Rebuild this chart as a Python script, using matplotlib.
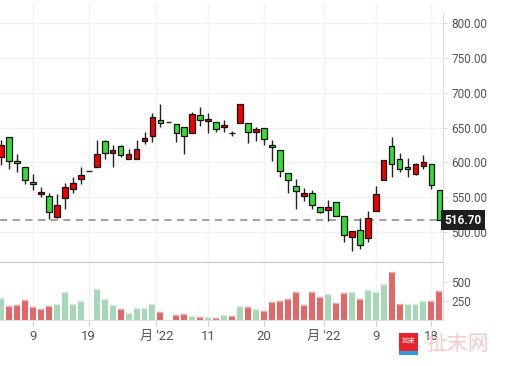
import numpy as np
import matplotlib
matplotlib.use("Agg")
import matplotlib.pyplot as plt
from matplotlib.transforms import blended_transform_factory

plt.rcParams['font.family'] = ['Roboto', 'Noto Sans CJK SC', 'DejaVu Sans']

# daily candles, oldest first
opens = [607.5, 636.3, 601.8, 593.1, 571.5, 554.3, 551.4, 521.2, 548.5, 561.5,
         575.9, 588.1, 593.1, 630.6, 613.3, 623.4, 604.7, 604.7, 630.6, 637.8,
         660.8, 657.9, 655.0, 650.7, 642.1, 668.0, 659.4, 657.9, 650.7, 642.1,
         656.5, 656.5, 643.5, 649.3, 624.8, 617.6, 584.5, 565.8, 551.4, 555.7,
         535.6, 531.2, 542.8, 522.6, 492.4, 502.4, 490.9, 529.8, 574.4, 623.4,
         604.7, 592.5, 583.1, 594.6, 597.5, 560.0]
highs = [632.0, 636.3, 611.8, 593.1, 583.1, 564.3, 555.7, 554.3, 570.1, 578.7,
         593.1, 588.1, 632.0, 632.0, 624.8, 624.8, 619.0, 632.0, 643.5, 670.9,
         683.8, 657.9, 655.0, 650.7, 672.3, 679.5, 670.9, 657.9, 660.8, 645.0,
         683.8, 656.5, 650.7, 649.3, 632.0, 617.6, 584.5, 575.9, 562.9, 560.0,
         535.6, 545.6, 542.8, 522.6, 501.0, 519.7, 529.8, 565.8, 603.2, 636.3,
         613.3, 606.1, 598.9, 610.4, 597.5, 560.0]
lows = [596.0, 590.3, 585.9, 568.7, 560.0, 549.9, 518.3, 519.7, 532.7, 555.7,
        568.7, 588.1, 593.1, 604.7, 593.1, 607.5, 604.7, 604.7, 626.2, 629.1,
        650.7, 657.9, 629.1, 611.8, 642.1, 652.2, 642.1, 643.5, 643.5, 637.8,
        656.5, 627.7, 630.6, 624.8, 601.8, 578.7, 555.7, 532.7, 544.2, 532.7,
        526.9, 515.4, 522.6, 485.2, 472.2, 475.1, 485.2, 529.8, 574.4, 578.7,
        585.9, 578.7, 581.6, 590.3, 561.5, 516.7]
closes = [624.8, 601.8, 598.9, 574.4, 568.7, 557.1, 528.4, 538.4, 564.3, 570.1,
          581.6, 588.1, 611.8, 613.3, 617.6, 610.4, 611.8, 619.0, 634.9, 665.1,
          656.5, 657.9, 642.1, 637.8, 669.4, 660.8, 662.2, 647.8, 653.6, 642.1,
          683.8, 643.5, 647.8, 633.4, 621.9, 587.4, 574.4, 558.6, 555.7, 538.4,
          528.4, 535.6, 522.6, 495.2, 501.0, 480.9, 519.7, 554.3, 603.2, 597.5,
          590.3, 590.8, 597.5, 600.3, 567.2, 516.7]
volumes = [286, 180, 193, 263, 167, 145, 180, 207, 365, 207,
           250, 0, 408, 276, 197, 145, 88, 158, 158, 207,
           101, 0, 66, 75, 49, 39, 36, 26, 66, 49,
           184, 171, 145, 118, 237, 250, 276, 368, 193, 365,
           299, 338, 220, 351, 365, 276, 391, 365, 470, 628,
           207, 207, 207, 250, 250, 382]

date_pos = [4, 11, 19.5, 26, 33, 40.5, 47, 54]
date_labels = ["9", "19", "月 '22", "11", "20", "月 '22", "9", "18"]
price_ticks = [500, 550, 600, 650, 700, 750, 800]
vol_ticks = [250, 500]
last_price = 516.70

o = np.array(opens); h = np.array(highs); l = np.array(lows); c = np.array(closes)
x = np.arange(len(o))

fig = plt.figure(figsize=(5.05, 3.66), dpi=100)
ax = fig.add_axes([0, 1 - 262/366, 443/505, 258/366])
axv = fig.add_axes([0, 1 - 320/366, 443/505, 58/366], sharex=ax)

grid_c = '#f2f2f2'
for a in (ax, axv):
    for s in ('left', 'top', 'bottom'):
        a.spines[s].set_visible(False)
    a.spines['right'].set_color('#dcdcdc')
    a.yaxis.tick_right()
    a.tick_params(axis='y', colors='#dcdcdc', labelcolor='#555555', length=3, labelsize=8.5, pad=3)
    for p in date_pos:
        a.axvline(p, color=grid_c, lw=1, zorder=0)

# price panel
ax.set_xlim(-0.13, 55.45)
ax.set_ylim(456.4, 827.8)
ax.spines['right'].set_bounds(456.4, 814.8)
ax.set_yticks(price_ticks)
ax.set_yticklabels([f"{v:.2f}" for v in price_ticks])
ax.tick_params(axis='x', bottom=False, labelbottom=False)
for v in price_ticks:
    ax.axhline(v, color=grid_c, lw=1, zorder=0)

up = c > o
dn = c < o
flat = c == o
ax.vlines(x, l, h, color='#222222', lw=1, zorder=2)
ax.bar(x[up], (c - o)[up], bottom=o[up], width=0.72, color='#ee0000', edgecolor='#111111', lw=0.9, zorder=3)
ax.bar(x[dn], (o - c)[dn], bottom=c[dn], width=0.72, color='#33dd33', edgecolor='#111111', lw=0.9, zorder=3)
ax.hlines(c[flat], x[flat] - 0.36, x[flat] + 0.36, color='#222222', lw=1, zorder=3)

ax.axhline(last_price, color='#9a9a9a', lw=1.3, dashes=(4, 3), zorder=1)
tr = blended_transform_factory(ax.transAxes, ax.transData)
ax.text(1.004, last_price, f"{last_price:.2f}", transform=tr, ha='left', va='center',
        color='white', fontsize=8.5, fontweight='bold', clip_on=False, zorder=5,
        bbox=dict(boxstyle='square,pad=0.3', facecolor='#1e1e1e', edgecolor='none'))

# volume panel
prev = np.concatenate([[o[0]], c[:-1]])
vol_colors = ['#a6d8b8' if cc >= pp else '#e06868' for cc, pp in zip(c, prev)]
cap_colors = ['#d3eedc' if cc >= pp else '#f0aaaa' for cc, pp in zip(c, prev)]
vols = np.array(volumes)
axv.bar(x, vols, width=0.75, color=vol_colors, zorder=2)
has = vols > 0
axv.hlines(vols[has], x[has] - 0.375, x[has] + 0.375, colors=np.array(cap_colors)[has], lw=1, zorder=3)
axv.set_ylim(0, 763)
axv.set_yticks(vol_ticks)
axv.set_yticklabels([str(v) for v in vol_ticks])
axv.spines['top'].set_visible(True)
axv.spines['top'].set_color('#c8c8c8')
axv.spines['bottom'].set_visible(True)
axv.spines['bottom'].set_color('#e0e0e0')
axv.set_xticks(date_pos)
axv.set_xticklabels(date_labels)
axv.tick_params(axis='x', colors='#d0d0d0', labelcolor='#555555', length=4, labelsize=9.5, pad=3)

# watermark
fig.patches.append(plt.Rectangle((399/505, 1 - 352/366), 19/505, 19/366, transform=fig.transFigure,
                                 facecolor='#e8222a', edgecolor='none', zorder=10))
fig.patches.append(plt.Rectangle((399/505, 1 - 355/366), 19/505, 4/366, transform=fig.transFigure,
                                 facecolor='#2f9be0', edgecolor='none', zorder=10))
fig.text(408.5/505, 1 - 341/366, "加末", color='white', fontsize=5, ha='center', va='center', zorder=11)
fig.text(458/505, 1 - 344/366, "扯末网", color='#f7c9cc', fontsize=15, ha='center', va='center', zorder=11)

fig.savefig("out.png", dpi=100)
